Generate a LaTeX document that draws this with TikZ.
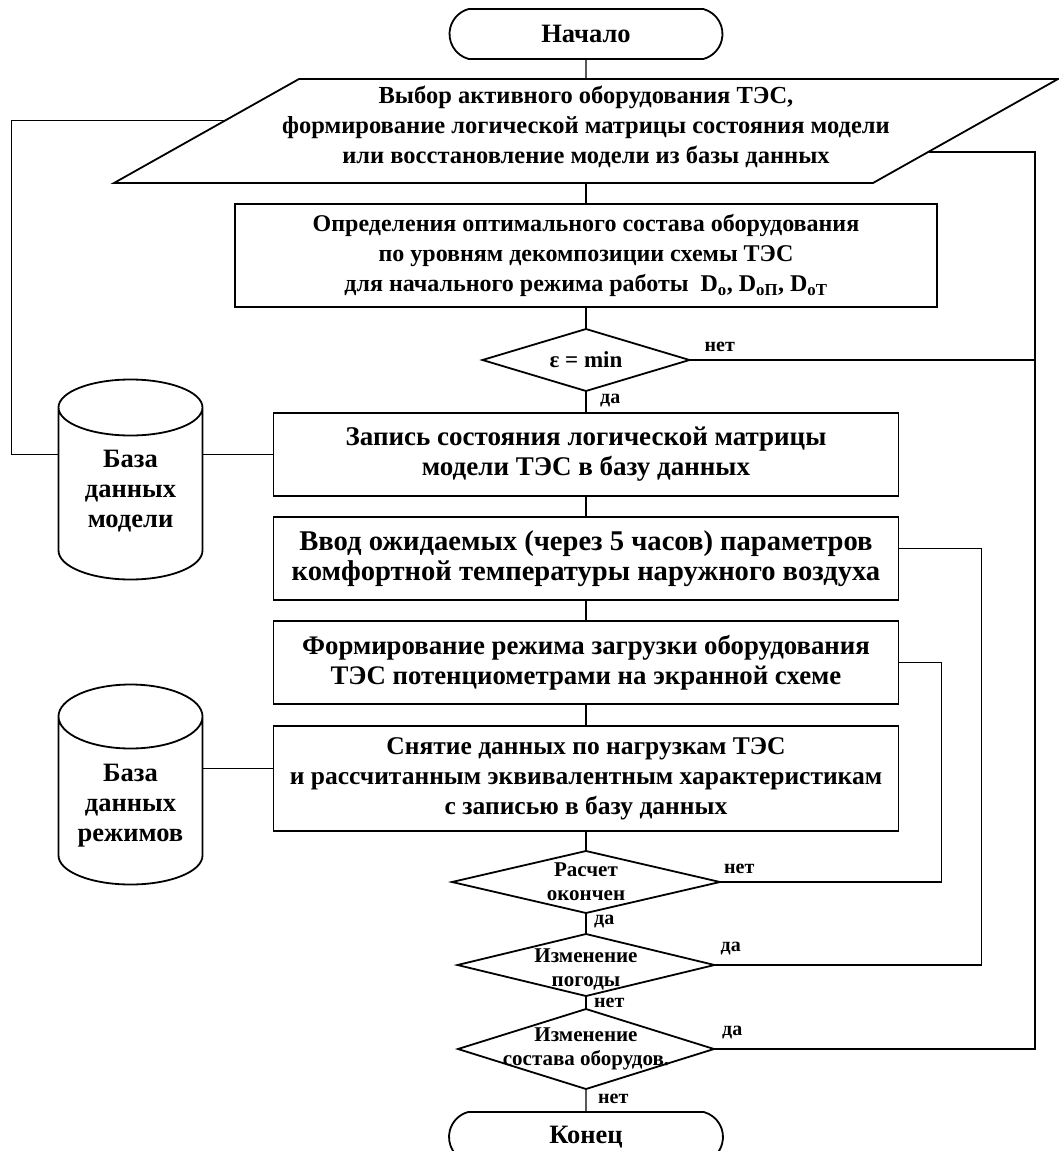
\documentclass[tikz,border=0pt]{standalone}
\usepackage{fontspec}
\setmainfont{Liberation Serif}
\usetikzlibrary{positioning,calc,shapes.geometric,shapes.misc}

\tikzset{
  fsz/.style={font=\bfseries\fontsize{#1}{30}\selectfont},
  base/.style={draw, line width=1.8pt, inner sep=0pt, outer sep=0pt, align=center, fsz=26.5},
  term/.style={base, rounded rectangle, rounded rectangle arc length=150,
    minimum width=273pt, minimum height=50pt},
  proc/.style={base, rectangle, minimum width=625pt, minimum height=83pt},
  iobox/.style={inner sep=0pt, outer sep=0pt, minimum width=574pt, minimum height=104pt},
  dec/.style={base, diamond, minimum width=258pt, minimum height=62pt},
  dbbox/.style={inner sep=0pt, outer sep=0pt, minimum width=144pt, minimum height=200pt},
  mtxt/.style={align=center, inner sep=0pt, fsz=26.5},
  dtxt/.style={font=\bfseries\fontsize{21}{24}\selectfont, align=center, inner sep=0pt},
  lbl/.style={font=\bfseries\fontsize{20}{22}\selectfont, inner sep=0pt},
  line/.style={line width=1.4pt},
}

% database cylinder drawn round a named box: {name}{radius of the caps}
\newcommand{\drawdb}[2]{%
  \draw[line width=1.8pt] ([yshift=-#2pt]#1.north west) -- ([yshift=29pt]#1.south west)
    arc[start angle=180, end angle=360, x radius=72pt, y radius=29pt]
    -- ([yshift=-#2pt]#1.north east)
    arc[start angle=0, end angle=360, x radius=72pt, y radius=#2pt];}

\begin{document}
\begin{tikzpicture}
  \useasboundingbox (0,0) rectangle (1059pt,-1151pt);

  % Main chain
  \node[term] (start) at (586pt,-34pt) {Начало};
  \node[iobox, below=20pt of start,
    label={[mtxt, fsz=24.5, yshift=4pt]center:Выбор активного оборудования ТЭС,\\формирование логической матрицы состояния модели\\или восстановление модели из базы данных}] (io) {};
  \draw[line width=1.8pt] ([xshift=-185pt]io.south west) -- (io.south east)
    -- ([xshift=185pt]io.north east) -- (io.north west) -- cycle;
  \node[proc, below=21pt of io, minimum width=702pt, minimum height=103pt, fsz=24] (opt)
    {Определения оптимального состава оборудования\\по уровням декомпозиции схемы ТЭС\\для начального режима работы~ D\textsubscript{o}, D\textsubscript{oП}, D\textsubscript{oТ}};
  \node[dec, below=22pt of opt, minimum width=207pt,
    label={[dtxt, font=\bfseries\fontsize{23}{26}\selectfont]center:ε = min}] (eps) {};
  \node[proc, below=22pt of eps, fsz=27] (rec) {Запись состояния логической матрицы\\модели ТЭС в базу данных};
  \node[proc, below=21pt of rec, fsz=28.6] (inp) {Ввод ожидаемых (через 5 часов) параметров\\комфортной температуры наружного воздуха};
  \node[proc, below=21pt of inp, fsz=26.8] (form) {Формирование режима загрузки оборудования\\ТЭС потенциометрами на экранной схеме};
  \node[proc, below=22pt of form, minimum height=105pt, fsz=25.5] (snap)
    {Снятие данных по нагрузкам ТЭС\\и рассчитанным эквивалентным характеристикам\\с записью в базу данных};
  \node[dec, below=20pt of snap, minimum width=268pt,
    label={[dtxt]center:Расчет\\окончен}] (calc) {};
  \node[dec, below=21pt of calc, minimum width=257pt,
    label={[dtxt, yshift=-4pt]center:Изменение\\погоды}] (wthr) {};
  \node[dec, below=13pt of wthr, minimum width=256pt, minimum height=80pt,
    label={[dtxt]center:Изменение\\состава оборудов.}] (eqp) {};
  \node[term, below=23pt of eqp, minimum width=274pt] (stop) {Конец};

  % Databases
  \node[dbbox, left=71pt of rec, yshift=-25pt,
    label={[mtxt, yshift=-12pt]center:База\\данных\\модели}] (dbm) {};
  \node[dbbox, left=71pt of snap, yshift=-6pt,
    label={[mtxt, yshift=-21pt]center:База\\данных\\режимов}] (dbr) {};
  \drawdb{dbm}{28}
  \drawdb{dbr}{32}

  % Labels
  \node[lbl, above right=8pt and 15pt of eps.east] (n1) {нет};
  \node[lbl, below right=3pt and 14pt of eps.south] (y1) {да};
  \node[lbl, above right=8pt and 4pt of calc.east] (n2) {нет};
  \node[lbl, below right=2pt and 8pt of calc.south] (y2) {да};
  \node[lbl, above right=10pt and 6pt of wthr.east] (y3) {да};
  \node[lbl, below right=2pt and 8pt of wthr.south] (n3) {нет};
  \node[lbl, above right=10pt and 8pt of eqp.east] (y4) {да};
  \node[lbl, below right=5pt and 12pt of eqp.south] (n4) {нет};

  % Connect the nodes
  \draw[line] (start) -- (io);
  \draw[line] (io) -- (opt);
  \draw[line] (opt) -- (eps);
  \draw[line] (eps) -- (rec);
  \draw[line] (rec) -- (inp);
  \draw[line] (inp) -- (form);
  \draw[line] (form) -- (snap);
  \draw[line] (snap) -- (calc);
  \draw[line] (calc) -- (wthr);
  \draw[line] (wthr) -- (eqp);
  \draw[line] (eqp) -- (stop);

  % Feedback lines
  \coordinate (ioL) at ($([xshift=-185pt]io.south west)!0.6!(io.north west)$);
  \coordinate (ioR) at ($(io.south east)!0.3!([xshift=185pt]io.north east)$);
  \coordinate (busR) at ([xshift=98pt]opt.east);
  \draw[line] (eps.east) -- (eps.east -| busR);
  \draw[line] (eqp.east) -| (busR |- ioR) -- (ioR);
  \draw[line] ([yshift=10pt]inp.east) -- ++(83pt,0) |- (wthr.east);
  \draw[line] (form.east) -- ++(43pt,0) |- (calc.east);
  \draw[line] (rec.west) -- (rec.west -| dbm.east);
  \draw[line] (rec.west -| dbm.west) -- ++(-47pt,0) |- (ioL);
  \draw[line] ([yshift=10pt]snap.west) -- ([yshift=10pt]snap.west -| dbr.east);

\end{tikzpicture}
\end{document}
